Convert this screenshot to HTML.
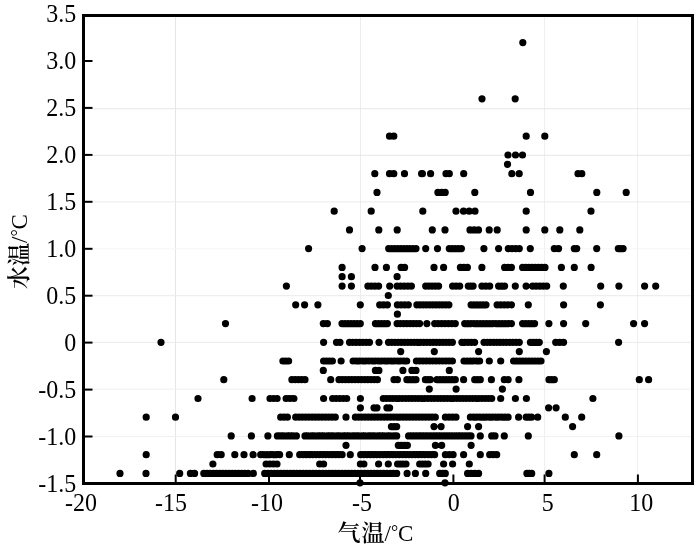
<!DOCTYPE html>
<html><head><meta charset="utf-8"><style>
html,body{margin:0;padding:0;background:#fff;width:700px;height:548px;overflow:hidden}
svg{display:block;filter:grayscale(1)}
</style></head><body><svg width="700" height="548" viewBox="0 0 700 548"><g stroke-width="1"><line x1="175.5" y1="16.5" x2="175.5" y2="482" stroke="#e6e6e6"/><line x1="360.5" y1="16.5" x2="360.5" y2="482" stroke="#ececec"/><line x1="544.6" y1="16.5" x2="544.6" y2="482" stroke="#efefef"/><line x1="637.5" y1="16.5" x2="637.5" y2="482" stroke="#f0f0f0"/><line x1="85" y1="108.8" x2="691" y2="108.8" stroke="#e6e6e6"/><line x1="85" y1="155.3" x2="691" y2="155.3" stroke="#e6e6e6"/><line x1="85" y1="201.9" x2="691" y2="201.9" stroke="#eaeaea"/><line x1="85" y1="248.8" x2="691" y2="248.8" stroke="#f6f6f6"/><line x1="85" y1="295.7" x2="691" y2="295.7" stroke="#eaeaea"/><line x1="85" y1="342.4" x2="691" y2="342.4" stroke="#eaeaea"/><line x1="85" y1="389.1" x2="691" y2="389.1" stroke="#efefef"/><line x1="85" y1="436.6" x2="691" y2="436.6" stroke="#f0f0f0"/></g><path d="M360.0 482.8h0M445.0 482.8h0M120.0 473.4h0M146.0 473.4h0M179.7 473.4h0M190.4 473.4h0M194.6 473.4h0M203.8 473.4h0M207.0 473.4h0M210.1 473.4h0M213.3 473.4h0M216.5 473.4h0M219.6 473.4h0M222.8 473.4h0M226.0 473.4h0M229.1 473.4h0M232.3 473.4h0M235.4 473.4h0M238.6 473.4h0M241.8 473.4h0M244.9 473.4h0M248.1 473.4h0M253.3 473.4h0M264.7 473.4h0M267.9 473.4h0M271.1 473.4h0M274.4 473.4h0M277.6 473.4h0M280.8 473.4h0M284.0 473.4h0M287.2 473.4h0M290.5 473.4h0M293.7 473.4h0M296.9 473.4h0M300.1 473.4h0M303.3 473.4h0M306.6 473.4h0M309.8 473.4h0M313.0 473.4h0M316.2 473.4h0M319.4 473.4h0M322.7 473.4h0M325.9 473.4h0M329.1 473.4h0M332.3 473.4h0M335.5 473.4h0M338.7 473.4h0M342.0 473.4h0M345.2 473.4h0M348.4 473.4h0M351.6 473.4h0M354.8 473.4h0M358.1 473.4h0M361.3 473.4h0M364.5 473.4h0M367.7 473.4h0M370.9 473.4h0M374.2 473.4h0M377.4 473.4h0M380.6 473.4h0M383.8 473.4h0M387.0 473.4h0M390.3 473.4h0M393.5 473.4h0M396.7 473.4h0M407.1 473.4h0M415.4 473.4h0M425.7 473.4h0M439.7 473.4h0M442.5 473.4h0M445.3 473.4h0M467.6 473.4h0M471.2 473.4h0M474.9 473.4h0M478.6 473.4h0M526.9 473.4h0M529.3 473.4h0M531.7 473.4h0M548.9 473.4h0M212.9 464.0h0M266.1 464.0h0M269.8 464.0h0M273.4 464.0h0M277.0 464.0h0M319.7 464.0h0M323.6 464.0h0M360.4 464.0h0M363.9 464.0h0M378.6 464.0h0M388.3 464.0h0M397.6 464.0h0M400.4 464.0h0M403.2 464.0h0M406.0 464.0h0M419.7 464.0h0M422.5 464.0h0M425.3 464.0h0M428.1 464.0h0M452.6 464.0h0M469.3 464.0h0M443.6 464.0h0M146.2 454.7h0M217.2 454.7h0M221.2 454.7h0M234.8 454.7h0M244.0 454.7h0M253.1 454.7h0M260.7 454.7h0M263.9 454.7h0M267.0 454.7h0M270.1 454.7h0M273.3 454.7h0M276.4 454.7h0M279.6 454.7h0M289.3 454.7h0M299.7 454.7h0M303.0 454.7h0M306.2 454.7h0M309.5 454.7h0M312.7 454.7h0M316.0 454.7h0M319.3 454.7h0M322.5 454.7h0M325.8 454.7h0M329.1 454.7h0M332.3 454.7h0M335.6 454.7h0M338.8 454.7h0M342.1 454.7h0M350.3 454.7h0M360.7 454.7h0M363.9 454.7h0M367.1 454.7h0M370.3 454.7h0M373.6 454.7h0M376.8 454.7h0M380.0 454.7h0M383.2 454.7h0M386.4 454.7h0M389.6 454.7h0M392.8 454.7h0M396.0 454.7h0M399.2 454.7h0M402.5 454.7h0M405.7 454.7h0M408.9 454.7h0M412.1 454.7h0M415.3 454.7h0M418.5 454.7h0M421.7 454.7h0M424.9 454.7h0M428.1 454.7h0M431.4 454.7h0M434.6 454.7h0M445.4 454.7h0M449.3 454.7h0M453.1 454.7h0M463.6 454.7h0M480.3 454.7h0M489.7 454.7h0M493.2 454.7h0M496.7 454.7h0M574.3 454.7h0M596.7 454.7h0M346.0 445.3h0M398.3 445.3h0M401.3 445.3h0M404.4 445.3h0M407.4 445.3h0M435.4 445.3h0M471.1 445.3h0M441.7 445.3h0M231.2 435.9h0M251.4 435.9h0M267.9 435.9h0M277.4 435.9h0M280.6 435.9h0M283.8 435.9h0M286.9 435.9h0M290.1 435.9h0M293.3 435.9h0M296.4 435.9h0M305.0 435.9h0M308.2 435.9h0M311.3 435.9h0M314.5 435.9h0M317.6 435.9h0M320.8 435.9h0M324.0 435.9h0M327.1 435.9h0M330.3 435.9h0M333.5 435.9h0M336.6 435.9h0M339.8 435.9h0M342.9 435.9h0M346.1 435.9h0M349.3 435.9h0M352.4 435.9h0M355.6 435.9h0M358.8 435.9h0M361.9 435.9h0M365.1 435.9h0M368.2 435.9h0M371.4 435.9h0M374.6 435.9h0M377.7 435.9h0M380.9 435.9h0M384.1 435.9h0M387.2 435.9h0M390.4 435.9h0M393.5 435.9h0M396.7 435.9h0M408.6 435.9h0M411.9 435.9h0M415.2 435.9h0M418.5 435.9h0M421.7 435.9h0M425.0 435.9h0M428.3 435.9h0M431.6 435.9h0M434.9 435.9h0M438.2 435.9h0M441.4 435.9h0M444.7 435.9h0M448.0 435.9h0M451.3 435.9h0M454.6 435.9h0M457.9 435.9h0M461.1 435.9h0M464.4 435.9h0M467.7 435.9h0M471.0 435.9h0M480.3 435.9h0M491.7 435.9h0M495.0 435.9h0M504.3 435.9h0M528.3 435.9h0M618.9 435.9h0M391.4 426.6h0M394.1 426.6h0M396.7 426.6h0M434.0 426.6h0M441.1 426.6h0M467.6 426.6h0M478.6 426.6h0M572.6 426.6h0M146.2 417.2h0M175.5 417.2h0M280.7 417.2h0M284.1 417.2h0M287.4 417.2h0M295.7 417.2h0M299.0 417.2h0M302.3 417.2h0M305.6 417.2h0M308.9 417.2h0M312.2 417.2h0M315.5 417.2h0M318.8 417.2h0M322.1 417.2h0M325.4 417.2h0M328.7 417.2h0M332.0 417.2h0M335.3 417.2h0M346.0 417.2h0M355.4 417.2h0M358.6 417.2h0M361.8 417.2h0M365.0 417.2h0M368.2 417.2h0M371.4 417.2h0M374.6 417.2h0M377.8 417.2h0M381.0 417.2h0M384.2 417.2h0M387.4 417.2h0M390.6 417.2h0M393.8 417.2h0M397.0 417.2h0M400.1 417.2h0M403.3 417.2h0M406.5 417.2h0M409.7 417.2h0M412.9 417.2h0M416.1 417.2h0M419.3 417.2h0M422.5 417.2h0M425.7 417.2h0M428.9 417.2h0M432.1 417.2h0M435.3 417.2h0M445.4 417.2h0M449.0 417.2h0M452.5 417.2h0M456.0 417.2h0M470.4 417.2h0M473.6 417.2h0M476.7 417.2h0M479.9 417.2h0M483.0 417.2h0M486.1 417.2h0M489.3 417.2h0M492.4 417.2h0M495.6 417.2h0M498.7 417.2h0M501.9 417.2h0M505.0 417.2h0M508.1 417.2h0M518.6 417.2h0M526.2 417.2h0M528.9 417.2h0M531.5 417.2h0M537.7 417.2h0M565.3 417.2h0M581.7 417.2h0M360.4 407.8h0M374.0 407.8h0M377.0 407.8h0M386.9 407.8h0M389.6 407.8h0M548.6 407.8h0M556.1 407.8h0M270.0 398.5h0M273.6 398.5h0M277.1 398.5h0M286.1 398.5h0M290.0 398.5h0M293.9 398.5h0M323.6 398.5h0M332.6 398.5h0M336.1 398.5h0M339.6 398.5h0M343.2 398.5h0M346.7 398.5h0M360.4 398.5h0M383.3 398.5h0M386.5 398.5h0M389.7 398.5h0M392.9 398.5h0M396.1 398.5h0M399.2 398.5h0M402.4 398.5h0M405.6 398.5h0M408.8 398.5h0M412.0 398.5h0M415.2 398.5h0M418.4 398.5h0M421.6 398.5h0M424.7 398.5h0M427.9 398.5h0M431.1 398.5h0M434.3 398.5h0M437.5 398.5h0M440.7 398.5h0M443.9 398.5h0M447.1 398.5h0M450.3 398.5h0M453.4 398.5h0M456.6 398.5h0M459.8 398.5h0M463.0 398.5h0M466.2 398.5h0M469.4 398.5h0M472.6 398.5h0M475.8 398.5h0M478.9 398.5h0M482.1 398.5h0M485.3 398.5h0M488.5 398.5h0M491.7 398.5h0M500.7 398.5h0M515.4 398.5h0M526.4 398.5h0M592.9 398.5h0M198.0 398.5h0M252.1 398.5h0M429.3 389.1h0M456.1 389.1h0M502.4 389.1h0M291.9 379.7h0M295.1 379.7h0M298.4 379.7h0M301.7 379.7h0M305.0 379.7h0M330.7 379.7h0M339.0 379.7h0M342.2 379.7h0M345.4 379.7h0M348.6 379.7h0M351.8 379.7h0M355.0 379.7h0M358.2 379.7h0M361.4 379.7h0M364.6 379.7h0M367.8 379.7h0M371.0 379.7h0M374.2 379.7h0M377.4 379.7h0M394.0 379.7h0M397.4 379.7h0M406.9 379.7h0M409.9 379.7h0M413.0 379.7h0M416.0 379.7h0M425.4 379.7h0M427.9 379.7h0M430.3 379.7h0M437.0 379.7h0M440.1 379.7h0M443.1 379.7h0M446.1 379.7h0M449.2 379.7h0M452.2 379.7h0M455.3 379.7h0M463.6 379.7h0M474.7 379.7h0M477.5 379.7h0M480.3 379.7h0M491.4 379.7h0M504.3 379.7h0M508.1 379.7h0M518.9 379.7h0M549.0 379.7h0M551.6 379.7h0M554.3 379.7h0M639.3 379.7h0M648.6 379.7h0M223.8 379.7h0M323.3 370.4h0M375.4 370.4h0M378.9 370.4h0M402.9 370.4h0M411.9 370.4h0M416.0 370.4h0M449.3 370.4h0M282.9 361.0h0M285.7 361.0h0M288.6 361.0h0M323.6 361.0h0M326.5 361.0h0M329.5 361.0h0M332.4 361.0h0M341.1 361.0h0M353.1 361.0h0M356.3 361.0h0M359.4 361.0h0M362.6 361.0h0M365.7 361.0h0M368.9 361.0h0M372.1 361.0h0M375.2 361.0h0M378.4 361.0h0M381.5 361.0h0M384.7 361.0h0M387.8 361.0h0M391.0 361.0h0M394.1 361.0h0M397.3 361.0h0M400.4 361.0h0M403.6 361.0h0M406.7 361.0h0M416.4 361.0h0M419.7 361.0h0M422.9 361.0h0M426.2 361.0h0M429.5 361.0h0M432.8 361.0h0M436.0 361.0h0M439.3 361.0h0M442.6 361.0h0M445.9 361.0h0M449.1 361.0h0M452.4 361.0h0M464.0 361.0h0M467.1 361.0h0M470.2 361.0h0M473.3 361.0h0M476.5 361.0h0M479.6 361.0h0M489.3 361.0h0M500.7 361.0h0M513.6 361.0h0M516.6 361.0h0M519.7 361.0h0M522.7 361.0h0M525.8 361.0h0M528.8 361.0h0M531.9 361.0h0M534.9 361.0h0M538.0 361.0h0M541.0 361.0h0M400.7 351.6h0M434.3 351.6h0M478.6 351.6h0M519.3 351.6h0M546.4 351.6h0M161.0 342.3h0M323.6 342.3h0M336.5 342.3h0M340.0 342.3h0M349.5 342.3h0M352.8 342.3h0M356.2 342.3h0M359.5 342.3h0M362.8 342.3h0M366.2 342.3h0M369.5 342.3h0M379.0 342.3h0M388.5 342.3h0M391.7 342.3h0M394.9 342.3h0M398.1 342.3h0M401.3 342.3h0M404.5 342.3h0M407.7 342.3h0M410.9 342.3h0M414.1 342.3h0M417.3 342.3h0M420.4 342.3h0M423.6 342.3h0M426.8 342.3h0M430.0 342.3h0M433.2 342.3h0M436.4 342.3h0M439.6 342.3h0M442.8 342.3h0M446.0 342.3h0M449.2 342.3h0M452.4 342.3h0M461.9 342.3h0M465.0 342.3h0M468.2 342.3h0M471.4 342.3h0M474.6 342.3h0M484.0 342.3h0M487.2 342.3h0M490.4 342.3h0M493.6 342.3h0M496.8 342.3h0M500.0 342.3h0M503.2 342.3h0M506.5 342.3h0M509.7 342.3h0M512.9 342.3h0M516.1 342.3h0M519.3 342.3h0M530.4 342.3h0M533.4 342.3h0M536.3 342.3h0M539.3 342.3h0M555.7 342.3h0M559.6 342.3h0M563.6 342.3h0M618.6 342.3h0M225.5 323.6h0M323.3 323.6h0M327.4 323.6h0M342.0 323.6h0M345.1 323.6h0M348.1 323.6h0M351.1 323.6h0M354.2 323.6h0M357.2 323.6h0M360.3 323.6h0M375.4 323.6h0M378.4 323.6h0M381.4 323.6h0M384.4 323.6h0M387.4 323.6h0M397.1 323.6h0M400.3 323.6h0M403.6 323.6h0M406.8 323.6h0M410.0 323.6h0M413.2 323.6h0M416.4 323.6h0M419.6 323.6h0M426.9 323.6h0M434.7 323.6h0M438.1 323.6h0M441.6 323.6h0M445.0 323.6h0M448.4 323.6h0M451.9 323.6h0M455.3 323.6h0M464.7 323.6h0M467.8 323.6h0M470.9 323.6h0M474.1 323.6h0M477.2 323.6h0M480.3 323.6h0M483.4 323.6h0M486.5 323.6h0M489.6 323.6h0M492.7 323.6h0M495.9 323.6h0M499.0 323.6h0M502.1 323.6h0M505.2 323.6h0M508.3 323.6h0M511.4 323.6h0M522.6 323.6h0M525.6 323.6h0M528.6 323.6h0M531.6 323.6h0M534.6 323.6h0M548.9 323.6h0M563.6 323.6h0M585.7 323.6h0M633.6 323.6h0M644.6 323.6h0M397.4 314.2h0M295.7 304.8h0M304.6 304.8h0M317.9 304.8h0M360.3 304.8h0M379.7 304.8h0M383.6 304.8h0M387.4 304.8h0M397.4 304.8h0M401.0 304.8h0M404.7 304.8h0M408.3 304.8h0M416.9 304.8h0M420.1 304.8h0M423.3 304.8h0M426.5 304.8h0M429.7 304.8h0M432.9 304.8h0M436.1 304.8h0M439.3 304.8h0M442.5 304.8h0M445.7 304.8h0M448.9 304.8h0M471.1 304.8h0M474.1 304.8h0M477.1 304.8h0M480.1 304.8h0M483.0 304.8h0M486.0 304.8h0M497.1 304.8h0M500.7 304.8h0M504.3 304.8h0M507.9 304.8h0M511.4 304.8h0M528.3 304.8h0M563.6 304.8h0M600.4 304.8h0M388.3 295.5h0M342.1 286.1h0M351.4 286.1h0M367.9 286.1h0M371.4 286.1h0M375.0 286.1h0M378.6 286.1h0M389.7 286.1h0M397.1 286.1h0M400.7 286.1h0M404.3 286.1h0M407.9 286.1h0M411.4 286.1h0M425.7 286.1h0M428.9 286.1h0M432.1 286.1h0M435.4 286.1h0M438.6 286.1h0M286.4 286.1h0M452.6 286.1h0M456.1 286.1h0M459.7 286.1h0M468.3 286.1h0M470.7 286.1h0M473.1 286.1h0M481.9 286.1h0M485.8 286.1h0M489.7 286.1h0M498.6 286.1h0M501.6 286.1h0M504.6 286.1h0M515.3 286.1h0M526.1 286.1h0M532.6 286.1h0M536.1 286.1h0M539.7 286.1h0M543.2 286.1h0M546.7 286.1h0M563.3 286.1h0M600.7 286.1h0M618.9 286.1h0M644.6 286.1h0M655.7 286.1h0M342.1 276.7h0M351.4 276.7h0M397.1 276.7h0M342.1 267.4h0M375.0 267.4h0M386.4 267.4h0M401.1 267.4h0M404.6 267.4h0M434.0 267.4h0M443.6 267.4h0M460.4 267.4h0M463.9 267.4h0M467.4 267.4h0M481.9 267.4h0M504.6 267.4h0M508.0 267.4h0M511.4 267.4h0M522.6 267.4h0M525.8 267.4h0M529.0 267.4h0M532.2 267.4h0M535.4 267.4h0M538.6 267.4h0M541.8 267.4h0M545.0 267.4h0M561.4 267.4h0M574.3 267.4h0M591.1 267.4h0M362.1 248.6h0M388.7 248.6h0M391.7 248.6h0M394.8 248.6h0M397.8 248.6h0M400.8 248.6h0M403.9 248.6h0M406.9 248.6h0M409.9 248.6h0M413.0 248.6h0M416.0 248.6h0M425.7 248.6h0M308.6 248.6h0M437.5 248.6h0M449.3 248.6h0M452.3 248.6h0M455.4 248.6h0M458.4 248.6h0M461.4 248.6h0M483.9 248.6h0M498.6 248.6h0M508.3 248.6h0M512.0 248.6h0M515.6 248.6h0M519.3 248.6h0M530.3 248.6h0M554.3 248.6h0M558.6 248.6h0M574.3 248.6h0M576.7 248.6h0M596.7 248.6h0M618.3 248.6h0M620.7 248.6h0M623.1 248.6h0M349.5 229.9h0M378.8 229.9h0M397.2 229.9h0M432.3 229.9h0M445.0 229.9h0M470.0 229.9h0M474.2 229.9h0M478.5 229.9h0M489.2 229.9h0M497.2 229.9h0M526.2 229.9h0M544.8 229.9h0M559.8 229.9h0M579.8 229.9h0M334.2 211.2h0M371.2 211.2h0M422.8 211.2h0M456.0 211.2h0M463.5 211.2h0M469.2 211.2h0M475.0 211.2h0M526.2 211.2h0M591.0 211.2h0M377.0 192.4h0M437.9 192.4h0M441.6 192.4h0M445.2 192.4h0M474.8 192.4h0M530.5 192.4h0M596.8 192.4h0M626.2 192.4h0M374.8 173.7h0M389.5 173.7h0M393.8 173.7h0M404.5 173.7h0M421.6 173.7h0M422.4 173.7h0M430.6 173.7h0M446.0 173.7h0M449.3 173.7h0M463.7 173.7h0M511.8 173.7h0M519.2 173.7h0M578.0 173.7h0M581.8 173.7h0M507.5 164.3h0M508.0 155.0h0M515.5 155.0h0M522.5 155.0h0M389.5 136.2h0M393.8 136.2h0M526.2 136.2h0M544.8 136.2h0M482.0 98.8h0M515.2 98.8h0M522.8 42.6h0" stroke="#000" stroke-width="7.2" stroke-linecap="round" fill="none"/><g stroke="#000" stroke-width="2"><line x1="175.7" y1="483" x2="175.7" y2="474.5" /><line x1="269.0" y1="483" x2="269.0" y2="474.5" /><line x1="360.0" y1="483" x2="360.0" y2="474.5" /><line x1="453.4" y1="483" x2="453.4" y2="474.5" /><line x1="544.6" y1="483" x2="544.6" y2="474.5" /><line x1="637.9" y1="483" x2="637.9" y2="474.5" /><line x1="84" y1="436.5" x2="92.5" y2="436.5" /><line x1="84" y1="389.6" x2="92.5" y2="389.6" /><line x1="84" y1="342.6" x2="92.5" y2="342.6" /><line x1="84" y1="295.7" x2="92.5" y2="295.7" /><line x1="84" y1="248.8" x2="92.5" y2="248.8" /><line x1="84" y1="201.8" x2="92.5" y2="201.8" /><line x1="84" y1="154.9" x2="92.5" y2="154.9" /><line x1="84" y1="107.9" x2="92.5" y2="107.9" /><line x1="84" y1="61.0" x2="92.5" y2="61.0" /></g><rect x="83.5" y="15.5" width="609" height="468" fill="none" stroke="#000" stroke-width="3"/><g font-family="Liberation Serif, serif" font-size="24" fill="#000"><text transform="translate(76.3,491.6) scale(1,1.08)" text-anchor="end">-1.5</text><text transform="translate(76.3,444.7) scale(1,1.08)" text-anchor="end">-1.0</text><text transform="translate(76.3,397.8) scale(1,1.08)" text-anchor="end">-0.5</text><text transform="translate(76.3,350.8) scale(1,1.08)" text-anchor="end">0</text><text transform="translate(76.3,303.9) scale(1,1.08)" text-anchor="end">0.5</text><text transform="translate(76.3,256.9) scale(1,1.08)" text-anchor="end">1.0</text><text transform="translate(76.3,210.0) scale(1,1.08)" text-anchor="end">1.5</text><text transform="translate(76.3,163.1) scale(1,1.08)" text-anchor="end">2.0</text><text transform="translate(76.3,116.1) scale(1,1.08)" text-anchor="end">2.5</text><text transform="translate(76.3,69.2) scale(1,1.08)" text-anchor="end">3.0</text><text transform="translate(76.3,22.3) scale(1,1.08)" text-anchor="end">3.5</text></g><g font-family="Liberation Serif, serif" font-size="24" fill="#000"><text transform="translate(65.0,510.8) scale(1,1.08)">-20</text><text transform="translate(154.9,510.8) scale(1,1.08)">-15</text><text transform="translate(251.1,510.8) scale(1,1.08)">-10</text><text transform="translate(351.9,510.8) scale(1,1.08)">-5</text><text transform="translate(447.7,510.8) scale(1,1.08)">0</text><text transform="translate(541.8,510.8) scale(1,1.08)">5</text><text transform="translate(629.2,510.8) scale(1,1.08)">10</text></g><text x="337.5" y="541" font-family="Liberation Serif, Noto Serif CJK SC, serif" font-size="23" fill="#000"><tspan font-weight="600">气</tspan><tspan font-weight="600" dx="1">温</tspan>/<tspan font-size="18" dy="-3.5">°</tspan><tspan dy="3.5">C</tspan></text><text transform="translate(27,289) rotate(-90)" font-family="Liberation Serif, Noto Serif CJK SC, serif" font-size="23" fill="#000"><tspan font-weight="600">水温</tspan>/<tspan font-size="18" dy="-3.5">°</tspan><tspan dy="3.5">C</tspan></text></svg></body></html>
